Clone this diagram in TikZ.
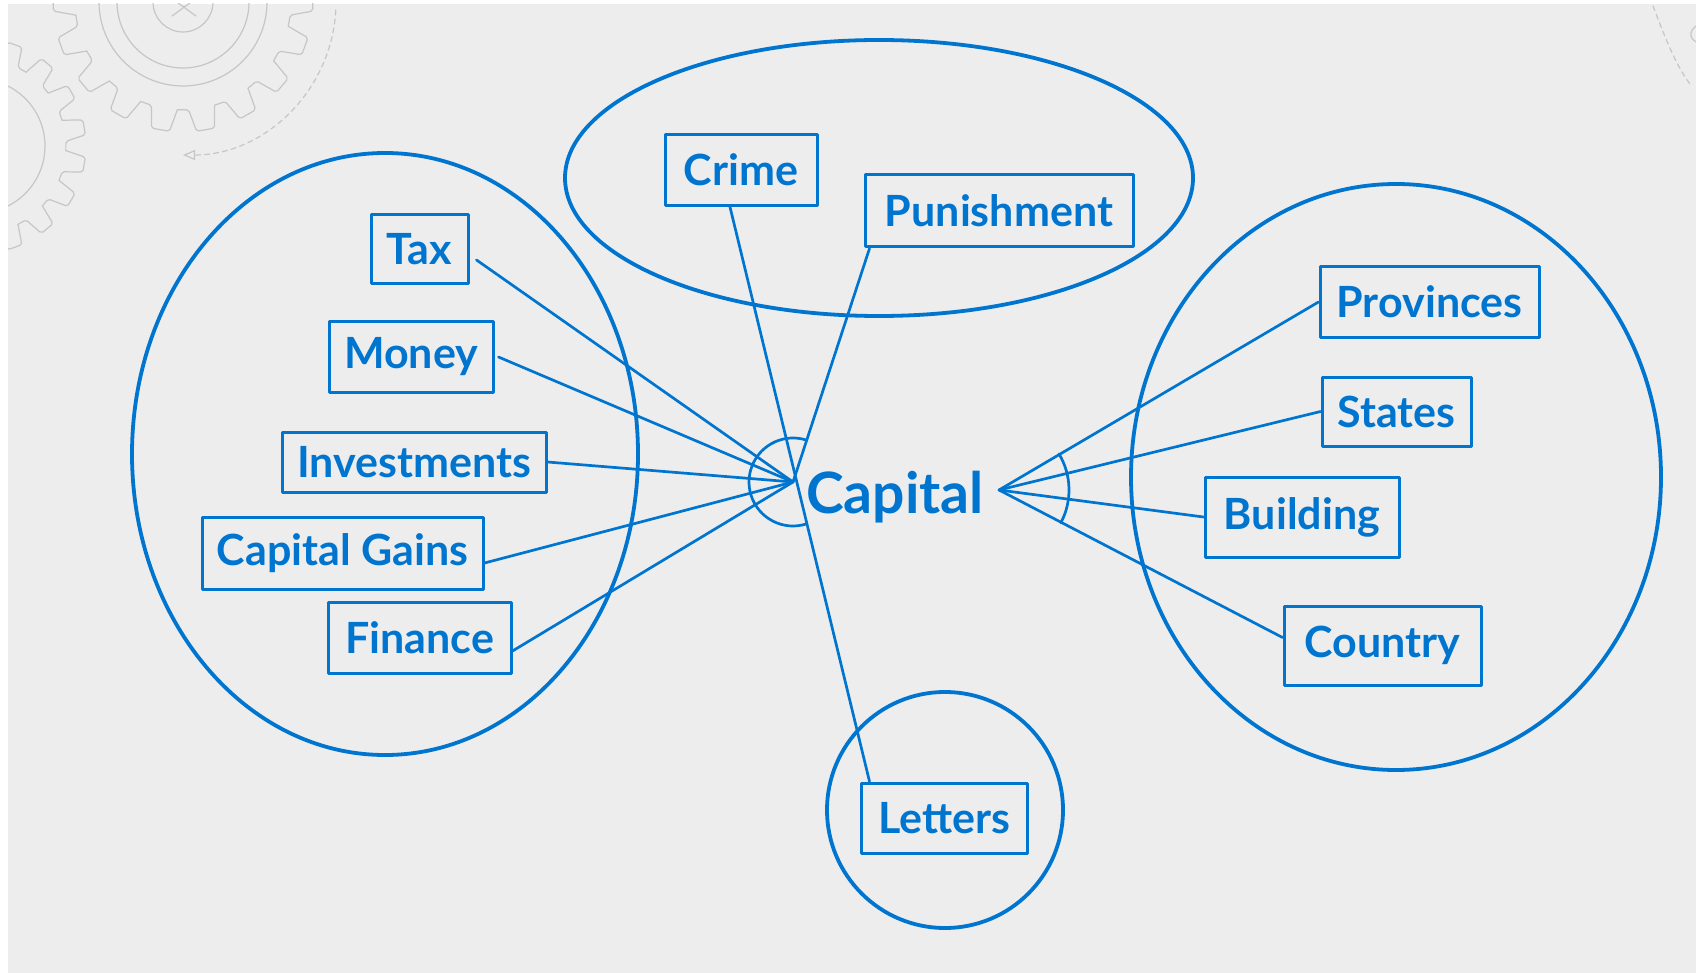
\documentclass[tikz,border=0pt]{standalone}
\usepackage{fontspec}
\setmainfont{Lato}
\usepackage{tikz}
\tikzset{>=latex}
\usetikzlibrary{calc}
\usetikzlibrary{arrows.meta}
\definecolor{capblue}{RGB}{0,117,208}
\definecolor{paper}{RGB}{237,237,237}
\definecolor{gearline}{RGB}{198,198,198}
\tikzset{
  word/.style={draw=capblue, line width=3pt, text=capblue, inner sep=0pt,
    font=\fontsize{43}{43}\selectfont\bfseries},
  link/.style={capblue, line width=2.7pt},
  group/.style={capblue, line width=3.8pt},
  cog/.style={gearline, line width=1.2pt, rounded corners=2pt}
}

\begin{document}
\begin{tikzpicture}[x=1pt,y=-1pt,line cap=round,line join=round]
		\useasboundingbox (0,0) rectangle (1696,973);
		\fill[white] (0,0) rectangle (1696,973);
		\fill[paper] (8,4) rectangle (1696,973);
		
		% gears in the corners
		\begin{scope}
		\clip (8,4) rectangle (1696,973);
		\foreach \r in {30,66,84} \draw[cog] (183,2) circle[radius=\r];
		\draw[cog] (172,16) -- (194,0) (174,0) -- (196,16);
		\foreach \a in {0,20,...,340}
			\draw[cog,shift={(183,2)}] ({\a-7}:108) -- ({\a-4}:130) -- ({\a+4}:130) -- ({\a+7}:108) -- ({\a+13}:108);
		\draw[cog] (-22,146) circle[radius=67];
		\foreach \a in {10,30,...,350}
			\draw[cog,shift={(-22,146)}] ({\a-7}:88) -- ({\a-4}:108) -- ({\a+4}:108) -- ({\a+7}:88) -- ({\a+13}:88);
		\draw[gearline, line width=1.2pt, dash pattern=on 5pt off 4pt, -{Triangle[open,length=12pt,width=10pt]}] (183,2) ++(3:153) arc[start angle=3, end angle=90, radius=153];
		\draw[gearline, line width=1.2pt, dash pattern=on 5pt off 4pt] (1653,6) .. controls (1664,35) and (1676,66) .. (1690,84);
		\draw[cog] (1696,26) -- (1691,31) -- (1691,38) -- (1696,42);
		\end{scope}
		
		% groups
		\draw[group] (385,454) ellipse[x radius=253, y radius=301];
		\draw[group] (879,178) ellipse[x radius=314, y radius=138];
		\draw[group] (1396,477) ellipse[x radius=265, y radius=293];
		\draw[group] (945,810) circle[radius=118];
		
		% words
		\node[word, minimum width=97, minimum height=69] (tax) at (419.5,249) {Tax};
		\node[word, minimum width=164, minimum height=71] (money) at (411,357) {Money};
		\node[word, minimum width=264, minimum height=60] (invest) at (414,462) {Investments};
		\node[word, minimum width=281, minimum height=72] (gains) at (342.5,553) {Capital Gains};
		\node[word, minimum width=183, minimum height=71] (finance) at (419.5,638) {Finance};
		\node[word, minimum width=152, minimum height=71] (crime) at (741,170) {Crime};
		\node[word, minimum width=268, minimum height=72] (punish) at (999,211) {Punishment};
		\node[word, minimum width=219, minimum height=70] (provinces) at (1429.5,302) {Provinces};
		\node[word, minimum width=149, minimum height=69] (states) at (1396.5,411.5) {States};
		\node[word, minimum width=194, minimum height=80] (building) at (1302,517) {Building};
		\node[word, minimum width=197, minimum height=79] (country) at (1382.5,645.5) {Country};
		\node[word, minimum width=166, minimum height=70] (letters) at (944,818) {Letters};
		\node[text=capblue, inner sep=0pt, anchor=base, font=\fontsize{57}{57}\selectfont\bfseries] (capital) at (895,513) {Capital};
		
		\coordinate (lhub) at (793,482);
		\coordinate (rhub) at (999,490);
		
		% links
		\draw[link] ([xshift=7pt,yshift=-11pt]tax.east) -- (lhub);
		\draw[link] ([xshift=4pt]money.east) -- (lhub);
		\draw[link] (invest.east) -- (lhub);
		\draw[link] ([yshift=-10pt]gains.east) -- (lhub);
		\draw[link] ([yshift=-13pt]finance.east) -- (lhub);
		\draw[link] ([xshift=-11pt]crime.south) -- ([xshift=10pt]letters.north west);
		\draw[link] ([xshift=6pt]punish.south west) -- (lhub);
		\draw[link] (rhub) -- (provinces.west);
		\draw[link] (rhub) -- (states.west);
		\draw[link] (rhub) -- (building.west);
		\draw[link] (rhub) -- ([yshift=8pt]country.west);
		\draw[link] (lhub) ++(72:44) arc[start angle=72, end angle=288, radius=44];
		\draw[link] (rhub) ++(-31:70) arc[start angle=-31, end angle=28, radius=70];
		
		\end{tikzpicture}
\end{document}
